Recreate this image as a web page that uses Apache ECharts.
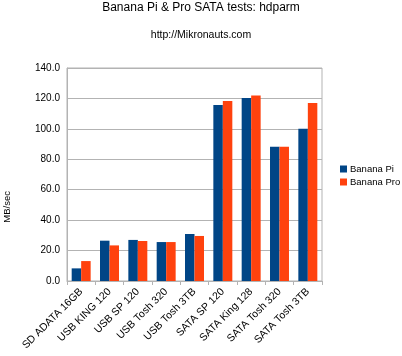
<!DOCTYPE html>
<html><head><meta charset="utf-8">
<script src="https://cdn.jsdelivr.net/npm/echarts@6/dist/echarts.min.js"></script>
<style>html,body{margin:0;padding:0;background:#fff}#c{width:402px;height:356px}</style>
</head><body><div id="c"></div>
<script>
const categories = ["SD ADATA 16GB","USB KING 120","USB SP 120","USB Tosh 320","USB Tosh 3TB","SATA SP 120","SATA King 128","SATA Tosh 320","SATA Tosh 3TB"];
const bananaPi = [8.3, 26.5, 27.0, 25.6, 30.9, 115.6, 120.3, 88.3, 100.1];
const bananaPro = [13.1, 23.4, 26.3, 25.6, 29.6, 118.3, 122.0, 88.3, 117.0];
const seriesNames = ["Banana Pi", "Banana Pro"];
const yTicks = {min: 0, max: 140, interval: 20};

const font = "Liberation Sans";
const chart = echarts.init(document.getElementById('c'), null, {renderer: 'canvas'});
chart.setOption({
  animation: false,
  textStyle: {fontFamily: font},
  title: [
    {text: "Banana Pi & Pro SATA tests: hdparm", left: 'center', top: 2, padding: 0, textStyle: {fontFamily: font, fontSize: 12, fontWeight: 'normal', color: '#000'}},
    {text: "http://Mikronauts.com", left: 'center', top: 30, padding: 0, textStyle: {fontFamily: font, fontSize: 10.5, fontWeight: 'normal', color: '#000'}}
  ],
  legend: {
    orient: 'vertical', left: 340, top: 164, padding: 0, itemWidth: 7, itemHeight: 7, itemGap: 3,
    icon: 'rect', textStyle: {fontFamily: font, fontSize: 9.5, color: '#000', padding: [0,0,0,-2]},
    data: seriesNames
  },
  graphic: [{
    type: 'text', left: 2, top: 191, rotation: Math.PI/2,
    style: {text: "MB/sec", fontFamily: font, fontSize: 9.5, fill: '#000'}
  }],
  grid: {left: 67, right: 80, top: 68, bottom: 75, show: true, borderColor: '#b3b3b3', borderWidth: 1},
  xAxis: {
    type: 'category', data: categories,
    axisLine: {lineStyle: {color: '#b3b3b3'}},
    axisTick: {show: true, length: 4, lineStyle: {color: '#b3b3b3'}},
    axisLabel: {rotate: 45, interval: 0, fontFamily: font, fontSize: 10.5, color: '#000', margin: 9}
  },
  yAxis: {
    type: 'value', min: yTicks.min, max: yTicks.max, interval: yTicks.interval,
    axisLine: {show: true, lineStyle: {color: '#b3b3b3'}},
    axisTick: {show: false},
    splitLine: {lineStyle: {color: '#b3b3b3'}},
    axisLabel: {fontFamily: font, fontSize: 10, color: '#000', margin: 7, formatter: v => v.toFixed(1)}
  },
  series: [
    {name: seriesNames[0], type: 'bar', data: bananaPi, itemStyle: {color: '#004586'}, barGap: '0%', barCategoryGap: '33%'},
    {name: seriesNames[1], type: 'bar', data: bananaPro, itemStyle: {color: '#ff420e'}, barGap: '0%', barCategoryGap: '33%'}
  ]
});
</script></body></html>
